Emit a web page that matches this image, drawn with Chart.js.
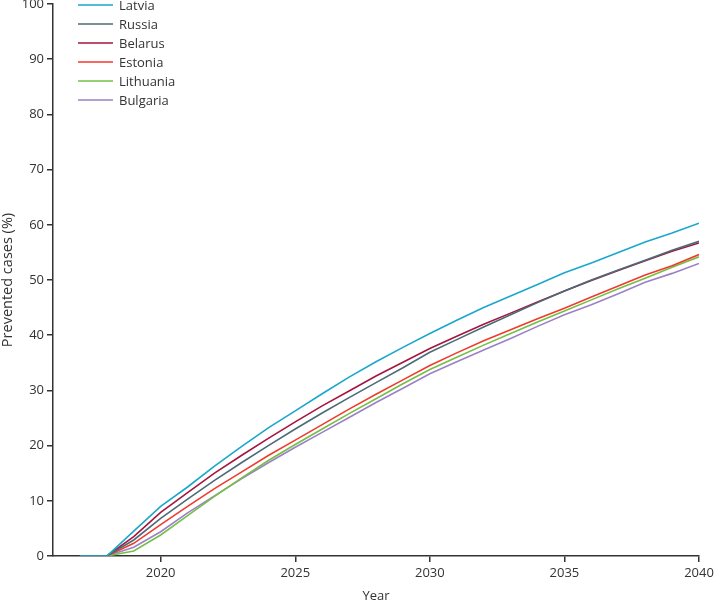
<!DOCTYPE html>
<html><head><meta charset="utf-8">
<script src="https://cdn.jsdelivr.net/npm/chart.js@4/dist/chart.umd.min.js"></script>
<style>html,body{margin:0;padding:0;background:#fff}#wrap{width:714px;height:602px}</style>
</head><body><div id="wrap"><canvas id="c"></canvas></div>
<script>
const years = [2017,2018,2019,2020,2021,2022,2023,2024,2025,2026,2027,2028,2029,2030,2031,2032,2033,2034,2035,2036,2037,2038,2039,2040];
const latvia    = [0,0,4.5,9.0,12.5,16.3,19.8,23.2,26.3,29.4,32.4,35.2,37.8,40.3,42.7,45.0,47.1,49.2,51.3,53.1,55.0,56.9,58.5,60.3];
const russia    = [0,0,2.9,6.8,10.3,13.7,16.9,20.0,23.0,25.9,28.7,31.4,34.1,36.9,39.2,41.5,43.7,45.9,48.0,50.0,51.8,53.6,55.4,57.0];
const belarus   = [0,0,3.5,7.9,11.5,15.0,18.2,21.3,24.3,27.2,29.9,32.6,35.1,37.6,39.8,42.0,44.0,46.0,48.0,49.9,51.7,53.5,55.2,56.7];
const estonia   = [0,0,2.3,5.7,9.0,12.2,15.2,18.2,21.0,23.8,26.6,29.3,31.9,34.5,36.8,39.0,41.0,43.0,44.9,46.9,48.9,50.9,52.6,54.6];
const lithuania = [0,0,0.9,3.8,7.3,10.8,14.1,17.3,20.2,23.0,25.8,28.5,31.2,33.8,36.0,38.2,40.3,42.4,44.4,46.4,48.4,50.3,52.3,54.2];
const bulgaria  = [0,0,1.6,4.4,7.8,10.9,14.0,16.9,19.7,22.4,25.1,27.8,30.4,33.0,35.2,37.3,39.4,41.6,43.7,45.5,47.5,49.6,51.2,53.0];
const seriesNames = ["Latvia","Russia","Belarus","Estonia","Lithuania","Bulgaria"];
const xTicks = [2020,2025,2030,2035,2040];
const yTicks = [0,10,20,30,40,50,60,70,80,90,100];

const colors = ["#1aa7cc","#4b6b78","#a5163e","#ef3b2e","#74bf44","#9c80c6"];
const allData = [latvia,russia,belarus,estonia,lithuania,bulgaria];
const FONT = "'Open Sans', 'Liberation Sans', sans-serif";
const TXT = "#333";

const datasets = allData.map((arr,i)=>({
  label: seriesNames[i],
  data: years.map((y,j)=>({x:y,y:arr[j]})),
  borderColor: colors[i],
  backgroundColor: colors[i],
  borderWidth: 1.6,
  pointRadius: 0,
  tension: 0,
  fill: false,
  order: i
}));

const legendPlugin = {
  id:'customLegend',
  afterDraw(chart){
    const ctx = chart.ctx;
    ctx.save();
    ctx.font = "13px " + FONT;
    ctx.textBaseline = 'middle';
    chart.data.datasets.forEach((d,i)=>{
      const y = 5 + i*19;
      ctx.strokeStyle = d.borderColor;
      ctx.lineWidth = 1.6;
      ctx.beginPath(); ctx.moveTo(78,y); ctx.lineTo(113,y); ctx.stroke();
      ctx.fillStyle = TXT;
      ctx.fillText(d.label, 119, y+1);
    });
    ctx.restore();
  }
};

new Chart(document.getElementById('c'), {
  type:'line',
  data:{datasets},
  plugins:[legendPlugin],
  options:{
    responsive:true, maintainAspectRatio:false, animation:false,
    layout:{padding:{top:4,right:15,left:0,bottom:0}},
    plugins:{legend:{display:false},tooltip:{enabled:false}},
    scales:{
      x:{
        type:'linear', min:2016, max:2040,
        afterBuildTicks(s){ s.ticks = xTicks.map(v=>({value:v})); },
        afterFit(s){ s.height = 46; s.paddingRight = 0; s.paddingLeft = 0; },
        grid:{display:true, drawOnChartArea:false, drawTicks:true, tickLength:6, color:TXT, lineWidth:1.5},
        border:{display:true, color:TXT, width:1.5},
        ticks:{color:TXT, font:{family:FONT,size:13}, padding:3, maxRotation:0, callback:v=>String(v)},
        title:{display:true, text:'Year', color:TXT, font:{family:FONT,size:13,lineHeight:0.9}, padding:{top:0,bottom:0}}
      },
      y:{
        min:0, max:100,
        afterBuildTicks(s){ s.ticks = yTicks.map(v=>({value:v})); },
        afterFit(s){ s.width = 53; s.paddingTop = 0; s.paddingBottom = 0; },
        grid:{display:true, drawOnChartArea:false, drawTicks:true, tickLength:6, color:TXT, lineWidth:1.5},
        border:{display:true, color:TXT, width:1.5},
        ticks:{color:TXT, font:{family:FONT,size:13}, padding:3},
        title:{display:true, text:'Prevented cases (%)', color:TXT, font:{family:FONT,size:14.5,lineHeight:1.1}, padding:{top:0,bottom:1}}
      }
    }
  }
});
</script></body></html>
